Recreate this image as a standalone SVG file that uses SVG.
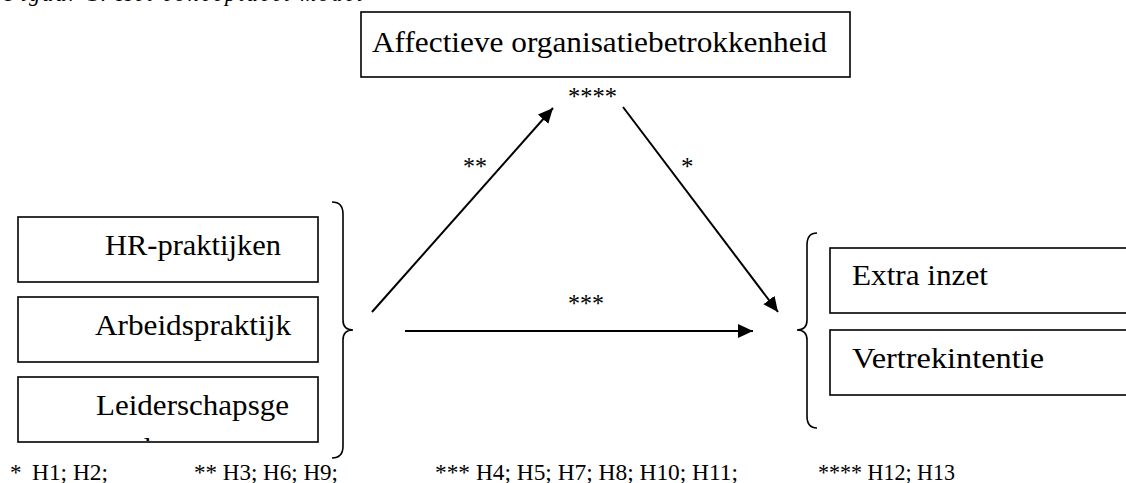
<svg xmlns="http://www.w3.org/2000/svg" width="1126" height="483" viewBox="0 0 1126 483">
<style>
.box{fill:#fff;stroke:#000;stroke-width:1.6}
.t{font-family:"Liberation Serif","Times New Roman",serif;font-size:30px;fill:#000}
.s{font-family:"Liberation Serif","Times New Roman",serif;font-size:25px;fill:#000}
.f{font-family:"Liberation Serif","Times New Roman",serif;font-size:23px;fill:#000}
.ln{stroke:#000;stroke-width:2;fill:none}
.br{stroke:#000;stroke-width:1.6;fill:none}
</style>
<defs>
<marker id="ah" markerUnits="userSpaceOnUse" markerWidth="16" markerHeight="15" refX="15" refY="7" orient="auto">
<path d="M0,0 L15,7 L0,14 Z" fill="#000"/>
</marker>
<clipPath id="c3"><rect x="18" y="377" width="300" height="64"/></clipPath>
</defs>
<rect width="1126" height="483" fill="#fff"/>
<text x="5" y="1" font-family="Liberation Serif, serif" font-style="italic" font-size="22" fill="#000" textLength="358">Figuur 1. Het conceptueel model</text>
<g id="node-affectieve">
<rect class="box" x="361" y="12" width="489" height="65"/>
<text class="t" x="372" y="52" textLength="455" lengthAdjust="spacingAndGlyphs">Affectieve organisatiebetrokkenheid</text>
</g>
<g id="node-hr">
<rect class="box" x="18" y="217" width="300" height="65"/>
<text class="t" x="105" y="255" textLength="176" lengthAdjust="spacingAndGlyphs">HR-praktijken</text>
</g>
<g id="node-arbeid">
<rect class="box" x="18" y="297" width="300" height="65"/>
<text class="t" x="95" y="335" textLength="196" lengthAdjust="spacingAndGlyphs">Arbeidspraktijk</text>
</g>
<g id="node-leider">
<rect class="box" x="18" y="377" width="300" height="65"/>
<g clip-path="url(#c3)">
<text class="t" x="96" y="415" textLength="193" lengthAdjust="spacingAndGlyphs">Leiderschapsge</text>
<text class="t" x="136" y="458">drag</text>
</g>
</g>
<g id="node-extra">
<rect class="box" x="830" y="248" width="300" height="65"/>
<text class="t" x="852" y="285" textLength="136" lengthAdjust="spacingAndGlyphs">Extra inzet</text>
</g>
<g id="node-vertrek">
<rect class="box" x="830" y="330" width="300" height="65"/>
<text class="t" x="852" y="368" textLength="192" lengthAdjust="spacingAndGlyphs">Vertrekintentie</text>
</g>
<g id="braces">
<path class="br" d="M332,202 Q343,202 343,214 L343,320 Q343,330 353,330 Q343,330 343,340 L343,446 Q343,458 332,458"/>
<path class="br" d="M817,233 Q807,233 807,245 L807,320 Q807,330 797,330 Q807,330 807,340 L807,416 Q807,428 817,428"/>
</g>
<g id="connectors">
<line class="ln" x1="372" y1="312" x2="553" y2="108" marker-end="url(#ah)"/>
<line class="ln" x1="623" y1="107" x2="778" y2="312" marker-end="url(#ah)"/>
<line class="ln" x1="405" y1="331" x2="753" y2="331" marker-end="url(#ah)"/>
</g>
<g id="labels">
<text class="s" x="568" y="105" textLength="49" lengthAdjust="spacingAndGlyphs">****</text>
<text class="s" x="463" y="175" textLength="24" lengthAdjust="spacingAndGlyphs">**</text>
<text class="s" x="681" y="175">*</text>
<text class="s" x="568" y="312" textLength="36" lengthAdjust="spacingAndGlyphs">***</text>
</g>
<g id="footnote">
<text class="f" x="10" y="480">*</text>
<text class="f" x="32" y="480" textLength="76" lengthAdjust="spacingAndGlyphs">H1; H2;</text>
<text class="f" x="194" y="480" textLength="144" lengthAdjust="spacingAndGlyphs">** H3; H6; H9;</text>
<text class="f" x="435" y="480" textLength="303" lengthAdjust="spacingAndGlyphs">*** H4; H5; H7; H8; H10; H11;</text>
<text class="f" x="818" y="480" textLength="137" lengthAdjust="spacingAndGlyphs">**** H12; H13</text>
</g>
</svg>
